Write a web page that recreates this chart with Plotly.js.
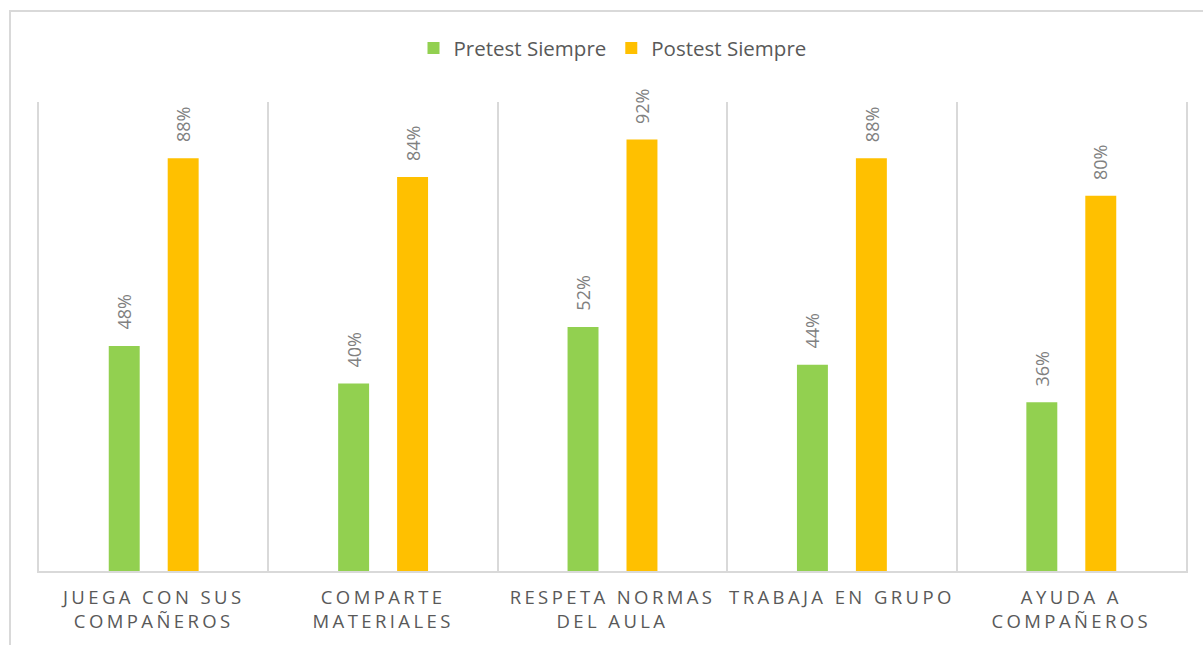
<!DOCTYPE html>
<html>
<head>
<meta charset="utf-8">
<script src="https://cdn.plot.ly/plotly-3.0.1.min.js"></script>
<style>
  html, body { margin: 0; padding: 0; background: #fff; overflow: hidden; }
  #wrap { position: relative; width: 1203px; height: 645px; overflow: hidden; }
  #frame { position: absolute; left: 9px; top: 10px; width: 1300px; height: 800px; border: 2px solid #d9d9d9; box-sizing: border-box; pointer-events: none; }
  #chart { position: absolute; left: 0; top: 0; width: 1203px; height: 645px; }
  #chart .xtick text { letter-spacing: 3.4px; }
</style>
</head>
<body>
<div id="wrap">
  <div id="frame"></div>
  <div id="chart"></div>
</div>
<script>
const categories = [
  "JUEGA CON SUS<br>COMPAÑEROS",
  "COMPARTE<br>MATERIALES",
  "RESPETA NORMAS<br>DEL AULA",
  "TRABAJA EN GRUPO",
  "AYUDA A<br>COMPAÑEROS"
];
const seriesNames = ["Pretest Siempre", "Postest Siempre"];
const pretest = [0.48, 0.40, 0.52, 0.44, 0.36];
const postest = [0.88, 0.84, 0.92, 0.88, 0.80];
const colors = ["#92D050", "#FFC000"];

const fmt = v => Math.round(v * 100) + "%";

const traces = [pretest, postest].map((vals, k) => ({
  type: "bar",
  name: seriesNames[k],
  x: categories,
  y: vals,
  marker: { color: colors[k] },
  hoverinfo: "skip"
}));

const groupOffset = 0.1285;
const annotations = [];
[pretest, postest].forEach((vals, k) => {
  vals.forEach((v, i) => {
    annotations.push({
      xref: "x", yref: "y",
      x: i + (k === 0 ? -groupOffset : groupOffset),
      y: v,
      text: fmt(v),
      showarrow: false,
      textangle: -90,
      xanchor: "center",
      yanchor: "bottom",
      yshift: 14,
      font: { family: "Open Sans", size: 18, color: "#808080" }
    });
  });
});

const layout = {
  width: 1203,
  height: 645,
  paper_bgcolor: "rgba(0,0,0,0)",
  plot_bgcolor: "rgba(0,0,0,0)",
  margin: { l: 39, r: 17, t: 102, b: 74 },
  barmode: "group",
  bargap: 0.486,
  bargroupgap: 0.475,
  showlegend: true,
  legend: {
    orientation: "h",
    x: 0.5, xanchor: "center",
    y: 1.115, yanchor: "middle",
    font: { family: "Open Sans", size: 20.5, color: "#595959" },
    itemclick: false
  },
  xaxis: {
    type: "category",
    range: [-0.5, 4.5],
    tickson: "boundaries",
    ticks: "",
    ticklabelstandoff: 9,
    showgrid: true,
    gridcolor: "#d9d9d9",
    gridwidth: 2,
    showline: true,
    linecolor: "#d9d9d9",
    linewidth: 2,
    tickfont: { family: "Open Sans", size: 18.5, color: "#595959" },
    fixedrange: true
  },
  yaxis: {
    range: [0, 1],
    showgrid: false,
    zeroline: false,
    showticklabels: false,
    showline: true,
    mirror: true,
    linecolor: "#d9d9d9",
    linewidth: 2,
    ticks: "",
    fixedrange: true
  },
  annotations: annotations
};

Plotly.newPlot("chart", traces, layout, { displayModeBar: false, staticPlot: true });
</script>
</body>
</html>
